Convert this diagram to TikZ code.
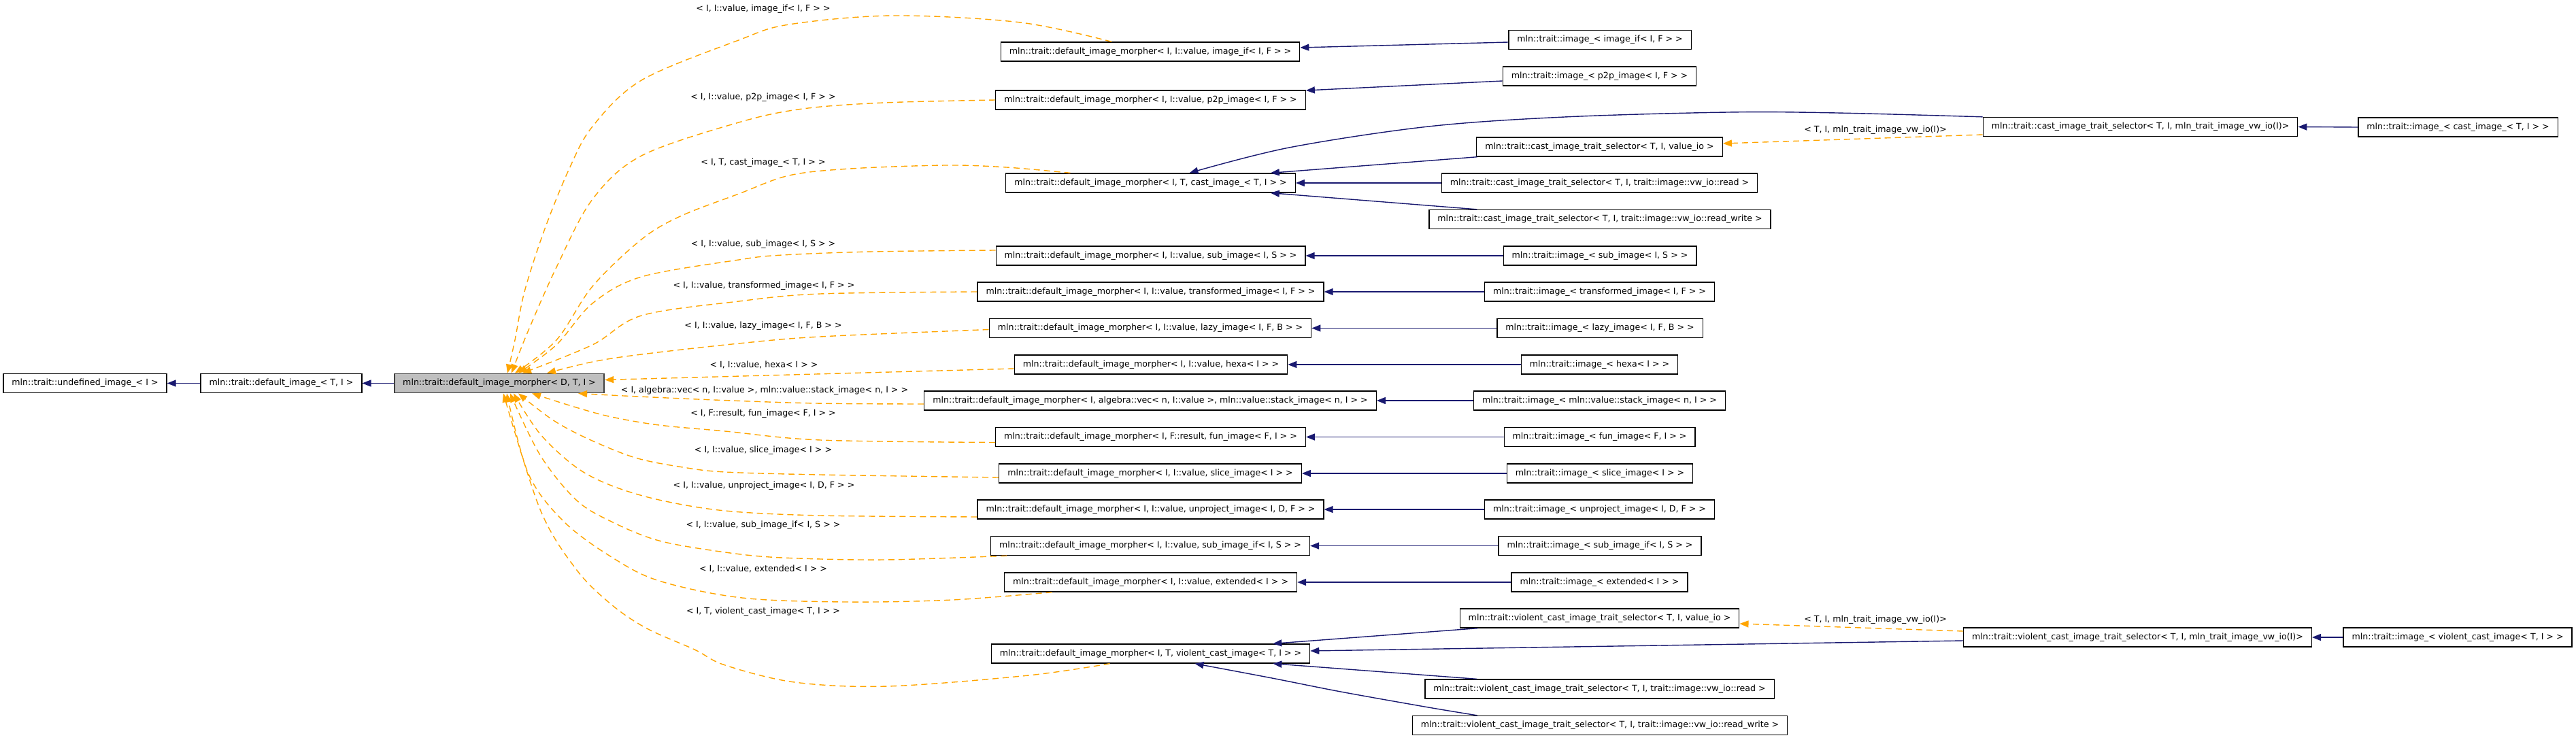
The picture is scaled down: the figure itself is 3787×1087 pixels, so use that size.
\documentclass[tikz,border=0pt]{standalone}
\usepackage{fontspec}
\setmainfont{DejaVu Sans}
\usetikzlibrary{arrows.meta,calc}
\definecolor{edgeblue}{HTML}{191970}
\definecolor{edgeorange}{HTML}{FFA500}
\definecolor{boxgray}{HTML}{BFBFBF}
\tikzset{
  cls/.style={draw=black, fill=white, line width=1.3pt, inner xsep=12.5pt, inner ysep=0pt,
    minimum height=28pt, font=\fontsize{12.6}{15}\selectfont},
  cur/.style={cls, fill=boxgray, draw=black!75, line width=1.8pt},
  lbl/.style={inner sep=0pt, font=\fontsize{12.6}{15}\selectfont},
  bedge/.style={draw=edgeblue, line width=1.4pt, -{Triangle[length=13pt,width=10pt]}},
  oedge/.style={draw=edgeorange, line width=1.4pt, dash pattern=on 9pt off 6pt,
    -{Triangle[length=13pt,width=10pt]}},
  sm/.style={smooth, tension=0.55}
}
\begin{document}
\begin{tikzpicture}[x=1pt,y=-1pt]
\useasboundingbox (0,0) rectangle (3787,1087);
% left chain
\node[cls] (U) at (125,563.5) {mln::trait::undefined\_image\_< I >};
\node[cls] (DI) at (413.5,563.5) {mln::trait::default\_image\_< T, I >};
\node[cur] (G) at (734,563.5) {mln::trait::default\_image\_morpher< D, T, I >};
% middle column
\node[cls] (D1) at (1691,76) {mln::trait::default\_image\_morpher< I, I::value, image\_if< I, F > >};
\node[cls] (D2) at (1691.5,147) {mln::trait::default\_image\_morpher< I, I::value, p2p\_image< I, F > >};
\node[cls] (D3) at (1691.5,269) {mln::trait::default\_image\_morpher< I, T, cast\_image\_< T, I > >};
\node[cls] (D4) at (1691.5,376) {mln::trait::default\_image\_morpher< I, I::value, sub\_image< I, S > >};
\node[cls] (D5) at (1691.5,429) {mln::trait::default\_image\_morpher< I, I::value, transformed\_image< I, F > >};
\node[cls] (D6) at (1691,482.5) {mln::trait::default\_image\_morpher< I, I::value, lazy\_image< I, F, B > >};
\node[cls] (D7) at (1692,536) {mln::trait::default\_image\_morpher< I, I::value, hexa< I > >};
\node[cls] (D8) at (1691,589) {mln::trait::default\_image\_morpher< I, algebra::vec< n, I::value >, mln::value::stack\_image< n, I > >};
\node[cls] (D9) at (1691.5,642.5) {mln::trait::default\_image\_morpher< I, F::result, fun\_image< F, I > >};
\node[cls] (D10) at (1691,696) {mln::trait::default\_image\_morpher< I, I::value, slice\_image< I > >};
\node[cls] (D11) at (1691.5,749) {mln::trait::default\_image\_morpher< I, I::value, unproject\_image< I, D, F > >};
\node[cls] (D12) at (1691,802.5) {mln::trait::default\_image\_morpher< I, I::value, sub\_image\_if< I, S > >};
\node[cls] (D13) at (1691.5,856) {mln::trait::default\_image\_morpher< I, I::value, extended< I > >};
\node[cls] (D14) at (1691.5,961) {mln::trait::default\_image\_morpher< I, T, violent\_cast\_image< T, I > >};
% right column
\node[cls] (R1) at (2352,58.5) {mln::trait::image\_< image\_if< I, F > >};
\node[cls] (R2) at (2351.5,112) {mln::trait::image\_< p2p\_image< I, F > >};
\node[cls] (CS1) at (2351.5,216) {mln::trait::cast\_image\_trait\_selector< T, I, value\_io >};
\node[cls] (CS2) at (2351.5,269) {mln::trait::cast\_image\_trait\_selector< T, I, trait::image::vw\_io::read >};
\node[cls] (CS3) at (2352,322.5) {mln::trait::cast\_image\_trait\_selector< T, I, trait::image::vw\_io::read\_write >};
\node[cls] (R4) at (2352,376) {mln::trait::image\_< sub\_image< I, S > >};
\node[cls] (R5) at (2351.5,429) {mln::trait::image\_< transformed\_image< I, F > >};
\node[cls] (R6) at (2352,482.5) {mln::trait::image\_< lazy\_image< I, F, B > >};
\node[cls] (R7) at (2351.5,536) {mln::trait::image\_< hexa< I > >};
\node[cls] (R8) at (2351.5,589) {mln::trait::image\_< mln::value::stack\_image< n, I > >};
\node[cls] (R9) at (2351.5,642.5) {mln::trait::image\_< fun\_image< F, I > >};
\node[cls] (R10) at (2352,696) {mln::trait::image\_< slice\_image< I > >};
\node[cls] (R11) at (2351.5,749) {mln::trait::image\_< unproject\_image< I, D, F > >};
\node[cls] (R12) at (2352,802.5) {mln::trait::image\_< sub\_image\_if< I, S > >};
\node[cls] (R13) at (2351.5,856) {mln::trait::image\_< extended< I > >};
\node[cls] (VS1) at (2351.5,909) {mln::trait::violent\_cast\_image\_trait\_selector< T, I, value\_io >};
\node[cls] (VS2) at (2351.5,1013) {mln::trait::violent\_cast\_image\_trait\_selector< T, I, trait::image::vw\_io::read >};
\node[cls] (VS3) at (2352,1066.5) {mln::trait::violent\_cast\_image\_trait\_selector< T, I, trait::image::vw\_io::read\_write >};
% far right
\node[cls] (CV) at (3146.5,186.5) {mln::trait::cast\_image\_trait\_selector< T, I, mln\_trait\_image\_vw\_io(I)>};
\node[cls] (CI) at (3613.5,187) {mln::trait::image\_< cast\_image\_< T, I > >};
\node[cls] (VV) at (3142.5,937) {mln::trait::violent\_cast\_image\_trait\_selector< T, I, mln\_trait\_image\_vw\_io(I)>};
\node[cls] (VI) at (3613,937) {mln::trait::image\_< violent\_cast\_image< T, I > >};

% ---------- blue inheritance edges ----------
\draw[bedge] (DI.west) -- (U.east);
\draw[bedge] (G.west) -- (DI.east);
\draw[bedge] ($(R1.west)+(0,3.5)$) -- ($(D1.east)+(0,-6)$);
\draw[bedge] ($(R2.west)+(0,7)$) -- ($(D2.east)+(0,-14)$);
\coordinate (cvs) at (CV.north west);
\coordinate (cve) at ($(D3.north)+(57,0)$);
\draw[bedge] plot[sm] coordinates {(cvs) (2700,166) (2540,165) (2300,172) (2100,186) (1895,217) (cve)};
\draw[bedge] ($(CS1.south west)+(2,0)$) -- ($(D3.north east)+(-37,0)$);
\draw[bedge] (CS2.west) -- (D3.east);
\draw[bedge] ($(CS3.north west)+(71,0)$) -- ($(D3.south east)+(-37,0)$);
\draw[bedge] (CI.west) -- (CV.east);
\draw[bedge] (R4.west) -- (D4.east);
\draw[bedge] (R5.west) -- (D5.east);
\draw[bedge] (R6.west) -- (D6.east);
\draw[bedge] (R7.west) -- (D7.east);
\draw[bedge] (R8.west) -- (D8.east);
\draw[bedge] (R9.west) -- (D9.east);
\draw[bedge] (R10.west) -- (D10.east);
\draw[bedge] (R11.west) -- (D11.east);
\draw[bedge] (R12.west) -- (D12.east);
\draw[bedge] (R13.west) -- (D13.east);
\draw[bedge] ($(VS1.south west)+(27,0)$) -- ($(D14.north east)+(-55,0)$);
\draw[bedge] ($(VV.west)+(0,5)$) -- ($(D14.east)+(0,-4)$);
\draw[bedge] ($(VS2.north west)+(77,0)$) -- ($(D14.south east)+(-55,0)$);
\coordinate (vs3s) at ($(VS3.north west)+(96,0)$);
\coordinate (vs3e) at ($(D14.south)+(65,0)$);
\draw[bedge] plot[sm] coordinates {(vs3s) (2100,1040) (1971,1017) (1870,997) (vs3e)};
\draw[bedge] (VI.west) -- (VV.east);

% ---------- orange template edges on the right ----------
\draw[oedge] ($(CV.west)+(0,11.5)$) -- ($(CS1.east)+(0,-5)$);
\node[lbl] (LC) at (2757,191) {< T, I, mln\_trait\_image\_vw\_io(I)>};
\draw[oedge] ($(VV.west)+(0,-9)$) -- ($(VS1.east)+(0,8)$);
\node[lbl] (LV) at (2757,911) {< T, I, mln\_trait\_image\_vw\_io(I)>};

% ---------- orange template edges to the template ----------
\coordinate (s1) at ($(D1.north)+(-57,0)$);  \coordinate (e1) at ($(G.north)+(12,0)$);
\coordinate (s2) at (D2.west);               \coordinate (e2) at ($(G.north)+(18,0)$);
\coordinate (s3) at ($(D3.north)+(-118,0)$); \coordinate (e3) at ($(G.north)+(23,0)$);
\coordinate (s4) at ($(D4.west)+(0,-8)$);    \coordinate (e4) at ($(G.north)+(28,0)$);
\coordinate (s5) at (D5.west);               \coordinate (e5) at ($(G.north)+(34,0)$);
\coordinate (s6) at ($(D6.west)+(0,2)$);     \coordinate (e6) at ($(G.north)+(70,0)$);
\coordinate (s7) at ($(D7.west)+(0,6)$);     \coordinate (e7) at ($(G.east)+(0,-5)$);
\coordinate (s8) at ($(D8.west)+(0,5)$);     \coordinate (e8) at ($(G.south)+(116,0)$);
\coordinate (s9) at ($(D9.west)+(0,8)$);     \coordinate (e9) at ($(G.south)+(48,0)$);
\coordinate (s10) at ($(D10.west)+(0,6)$);   \coordinate (e10) at ($(G.south)+(28,0)$);
\coordinate (s11) at ($(D11.west)+(0,11)$);  \coordinate (e11) at ($(G.south)+(21,0)$);
\coordinate (s12) at ($(D12.south west)+(24,0)$); \coordinate (e12) at ($(G.south)+(16,0)$);
\coordinate (s13) at ($(D13.south)+(-145,0)$);    \coordinate (e13) at ($(G.south)+(11,0)$);
\coordinate (s14) at ($(D14.south)+(-60,0)$);     \coordinate (e14) at ($(G.south)+(6,0)$);

\draw[oedge] plot[sm] coordinates {(s1) (1500,33) (1313,23) (1160,36) (1086,59) (943,118) (871,186) (836,250) (800,339) (771,429) (757,500) (e1)};
\draw[oedge] plot[sm] coordinates {(s2) (1300,151) (1180,160) (1086,180) (943,229) (871,293) (818,393) (775,490) (e2)};
\draw[oedge] plot[sm] coordinates {(s3) (1480,246) (1390,243) (1250,248) (1160,258) (1086,285) (1000,318) (943,352) (871,421) (818,500) (e3)};
\draw[oedge] plot[sm] coordinates {(s4) (1283,370) (1150,375) (1086,382) (943,407) (871,446) (818,507) (e4)};
\draw[oedge] plot[sm] coordinates {(s5) (1206,432) (1086,443) (943,464) (871,507) (e5)};
\draw[oedge] plot[sm] coordinates {(s6) (1206,495) (1086,505) (943,521) (871,532) (e6)};
\draw[oedge] (s7) -- (e7);
\draw[oedge] plot[sm] coordinates {(s8) (1200,593) (1050,588) (917,582) (e8)};
\draw[oedge] plot[sm] coordinates {(s9) (1206,647) (1066,634) (969,625) (899,613) (847,599) (e9)};
\draw[oedge] plot[sm] coordinates {(s10) (1206,698) (1066,694) (1004,687) (934,673) (864,645) (812,617) (e10)};
\draw[oedge] plot[sm] coordinates {(s11) (1206,758) (1066,751) (969,735) (899,714) (847,687) (794,638) (e11)};
\draw[oedge] plot[sm] coordinates {(s12) (1300,823) (1150,820) (1066,812) (969,795) (899,767) (847,735) (794,669) (e12)};
\draw[oedge] plot[sm] coordinates {(s13) (1400,882) (1244,885) (1091,879) (969,854) (899,819) (829,767) (777,697) (e13)};
\draw[oedge] plot[sm] coordinates {(s14) (1512,993) (1305,1009) (1168,1003) (1066,978) (1021,955) (951,924) (899,889) (847,837) (794,749) (e14)};

% ---------- edge labels ----------
\node[lbl] (L1) at (1122,13) {< I, I::value, image\_if< I, F > >};
\node[lbl] (L2) at (1122,143) {< I, I::value, p2p\_image< I, F > >};
\node[lbl] (L3) at (1122,239) {< I, T, cast\_image\_< T, I > >};
\node[lbl] (L4) at (1122,359) {< I, I::value, sub\_image< I, S > >};
\node[lbl] (L5) at (1123,420) {< I, I::value, transformed\_image< I, F > >};
\node[lbl] (L6) at (1122,479) {< I, I::value, lazy\_image< I, F, B > >};
\node[lbl] (L7) at (1123,536) {< I, I::value, hexa< I > >};
\node[lbl] (L8) at (1124,574) {< I, algebra::vec< n, I::value >, mln::value::stack\_image< n, I > >};
\node[lbl] (L9) at (1122,608) {< I, F::result, fun\_image< F, I > >};
\node[lbl] (L10) at (1122,662) {< I, I::value, slice\_image< I > >};
\node[lbl] (L11) at (1123,714) {< I, I::value, unproject\_image< I, D, F > >};
\node[lbl] (L12) at (1122,772) {< I, I::value, sub\_image\_if< I, S > >};
\node[lbl] (L13) at (1122,836) {< I, I::value, extended< I > >};
\node[lbl] (L14) at (1122,899) {< I, T, violent\_cast\_image< T, I > >};
\end{tikzpicture}
\end{document}
